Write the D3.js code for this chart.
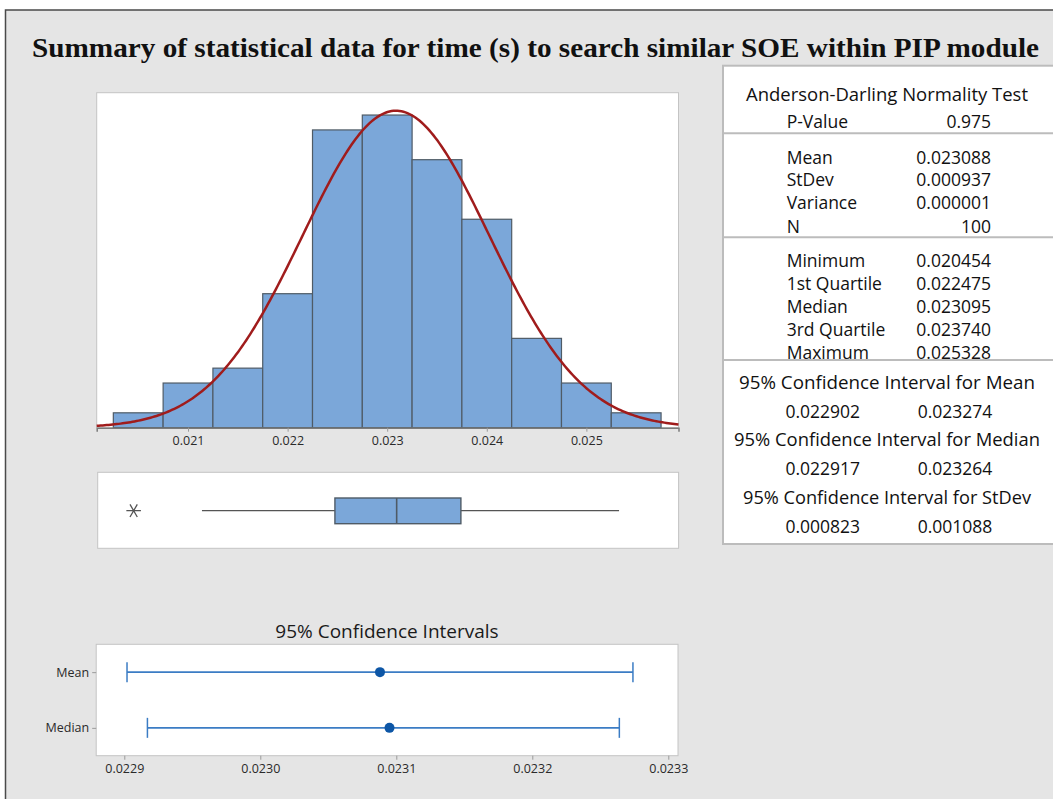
<!DOCTYPE html>
<html>
<head>
<meta charset="utf-8">
<script src="https://cdn.jsdelivr.net/npm/d3@7"></script>
<style>
  body { margin: 0; background: #fff; }
  svg { display: block; }
  text { font-family: "Open Sans", "Noto Sans", sans-serif; fill: #1a1a1a; }
</style>
</head>
<body>
<div id="chart"></div>
<script>
var width = 1053,
    height = 799;

// histogram: lower edge of each bin and how many values fall in it
var binLower = [0.02025, 0.02075, 0.02125, 0.02175, 0.02225, 0.02275, 0.02325, 0.02375, 0.02425, 0.02475, 0.02525];
var binWidth = 0.0005;
var binCounts = [1, 3, 4, 9, 20, 21, 18, 14, 6, 3, 1];
var histTicks = [0.021, 0.022, 0.023, 0.024, 0.025];

// summary statistics
var mean = 0.023088, stdev = 0.000937, n = 100;
var q1 = 0.022475, median = 0.023095, q3 = 0.023740;
var whiskerLow = 0.02114, whiskerHigh = 0.025328;
var outliers = [0.020454];

// confidence intervals
var ciNames = ['Mean', 'Median'];
var ciCenter = [0.023088, 0.023095];
var ciLow = [0.022902, 0.022917];
var ciHigh = [0.023274, 0.023264];
var ciTicks = [0.0229, 0.0230, 0.0231, 0.0232, 0.0233];

// right hand table
var testRows = [['P-Value', '0.975']];
var descRows = [['Mean', '0.023088'], ['StDev', '0.000937'], ['Variance', '0.000001'], ['N', '100']];
var quantRows = [['Minimum', '0.020454'], ['1st Quartile', '0.022475'], ['Median', '0.023095'], ['3rd Quartile', '0.023740'], ['Maximum', '0.025328']];
var ciTitles = ['95% Confidence Interval for Mean', '95% Confidence Interval for Median', '95% Confidence Interval for StDev'];
var ciValues = [['0.022902', '0.023274'], ['0.022917', '0.023264'], ['0.000823', '0.001088']];

var svg = d3.select('#chart').append('svg')
    .attr('width', width)
    .attr('height', height);

// grey frame
svg.append('rect')
    .attr('x', 5.5).attr('y', 10)
    .attr('width', width).attr('height', height)
    .style('fill', '#e5e5e5')
    .style('stroke', '#4a4a4a')
    .style('stroke-width', 1.5);

svg.append('text')
    .attr('x', 32).attr('y', 57)
    .attr('textLength', 1007)
    .attr('lengthAdjust', 'spacingAndGlyphs')
    .style('font-family', '"Liberation Serif", "Times New Roman", serif')
    .style('font-weight', 'bold')
    .style('font-size', '27px')
    .style('fill', '#111')
    .text('Summary of statistical data for time (s) to search similar SOE within PIP module');

var axisFont = '12.5px';

// ---------- histogram ----------
var hx = d3.scaleLinear().domain([0.020083, 0.025925]).range([96.7, 678.5]);
var hy = d3.scaleLinear().domain([0, 22.5]).range([427.7, 92.7]);

svg.append('rect')
    .attr('x', 96.7).attr('y', 92.7)
    .attr('width', 678.5 - 96.7).attr('height', 427.7 - 92.7)
    .style('fill', '#fff')
    .style('stroke', '#c4c4c4');

svg.append('g').selectAll('rect').data(binCounts)
  .enter().append('rect')
    .attr('x', function (d, i) { return hx(binLower[i]); })
    .attr('y', function (d) { return hy(d); })
    .attr('width', function (d, i) { return hx(binLower[i] + binWidth) - hx(binLower[i]); })
    .attr('height', function (d) { return hy(0) - hy(d); })
    .style('fill', '#7ba7d9')
    .style('stroke', '#4f5b66')
    .style('stroke-width', 1.2);

// fitted normal curve, scaled to counts
var curvePts = d3.range(hx.domain()[0], hx.domain()[1], 0.00002).concat([hx.domain()[1]]);
var line = d3.line()
    .x(function (v) { return hx(v); })
    .y(function (v) {
        var z = (v - mean) / stdev;
        return hy(n * binWidth * Math.exp(-0.5 * z * z) / (stdev * Math.sqrt(2 * Math.PI)));
    });
svg.append('path').datum(curvePts)
    .attr('d', line)
    .style('fill', 'none')
    .style('stroke', '#a01c1c')
    .style('stroke-width', 2.5);

var hAxis = svg.append('g')
    .attr('transform', 'translate(0,427.7)')
    .call(d3.axisBottom(hx).tickValues(histTicks).tickFormat(d3.format('.3f')).tickSize(4).tickPadding(4));
hAxis.select('.domain').style('stroke', '#7a7a7a').style('stroke-width', 1.5);
hAxis.selectAll('.tick line').style('stroke', '#9a9a9a');
hAxis.selectAll('text').style('font-size', axisFont).style('fill', '#2a2a2a').style('font-family', '"Open Sans", sans-serif');

// ---------- box plot ----------
svg.append('rect')
    .attr('x', 97.7).attr('y', 472.3)
    .attr('width', 678.6 - 97.7).attr('height', 548.3 - 472.3)
    .style('fill', '#fff')
    .style('stroke', '#c4c4c4');

var by = 510.7;
svg.append('line')
    .attr('x1', hx(whiskerLow)).attr('x2', hx(q1))
    .attr('y1', by).attr('y2', by)
    .style('stroke', '#555').style('stroke-width', 1.2);
svg.append('line')
    .attr('x1', hx(q3)).attr('x2', hx(whiskerHigh))
    .attr('y1', by).attr('y2', by)
    .style('stroke', '#555').style('stroke-width', 1.2);
svg.append('rect')
    .attr('x', hx(q1)).attr('y', 498)
    .attr('width', hx(q3) - hx(q1)).attr('height', 25.7)
    .style('fill', '#7ba7d9')
    .style('stroke', '#4f5b66')
    .style('stroke-width', 1.4);
svg.append('line')
    .attr('x1', hx(median)).attr('x2', hx(median))
    .attr('y1', 498).attr('y2', 523.7)
    .style('stroke', '#4f5b66').style('stroke-width', 1.6);
svg.selectAll('.outlier').data(outliers)
  .enter().append('path')
    .attr('class', 'outlier')
    .attr('transform', function (d) { return 'translate(' + hx(d) + ',' + by + ') rotate(90)'; })
    .attr('d', d3.symbol().type(d3.symbolAsterisk).size(150))
    .style('fill', 'none')
    .style('stroke', '#555')
    .style('stroke-width', 1.3);

// ---------- confidence intervals ----------
var cx = d3.scaleLinear().domain([0.02287934, 0.02330713]).range([96.2, 678]);
var cy = d3.scalePoint().domain(ciNames).range([644.3, 755.7]).padding(0.5);

svg.append('text')
    .attr('x', 387).attr('y', 631)
    .attr('text-anchor', 'middle')
    .attr('dominant-baseline', 'central')
    .style('font-size', '19px')
    .text('95% Confidence Intervals');

svg.append('rect')
    .attr('x', 96.2).attr('y', 644.3)
    .attr('width', 678 - 96.2).attr('height', 755.7 - 644.3)
    .style('fill', '#fff')
    .style('stroke', '#c4c4c4');

var cAxis = svg.append('g')
    .attr('transform', 'translate(0,755.7)')
    .call(d3.axisBottom(cx).tickValues(ciTicks).tickFormat(d3.format('.4f')).tickSize(4).tickPadding(4));
cAxis.select('.domain').remove();
cAxis.selectAll('.tick line').style('stroke', '#9a9a9a');
cAxis.selectAll('text').style('font-size', axisFont).style('fill', '#2a2a2a').style('font-family', '"Open Sans", sans-serif');

var cyAxis = svg.append('g')
    .attr('transform', 'translate(96.2,0)')
    .call(d3.axisLeft(cy).tickSize(4).tickPadding(3));
cyAxis.select('.domain').remove();
cyAxis.selectAll('.tick line').style('stroke', '#9a9a9a');
cyAxis.selectAll('text').style('font-size', axisFont).style('fill', '#2a2a2a').style('font-family', '"Open Sans", sans-serif');

var ci = svg.append('g').selectAll('g').data(ciNames)
  .enter().append('g');
ci.append('line')
    .attr('x1', function (d, i) { return cx(ciLow[i]); })
    .attr('x2', function (d, i) { return cx(ciHigh[i]); })
    .attr('y1', function (d) { return cy(d); })
    .attr('y2', function (d) { return cy(d); })
    .style('stroke', '#3b7cc4').style('stroke-width', 1.8);
ci.append('line')
    .attr('x1', function (d, i) { return cx(ciLow[i]); })
    .attr('x2', function (d, i) { return cx(ciLow[i]); })
    .attr('y1', function (d) { return cy(d) - 10; })
    .attr('y2', function (d) { return cy(d) + 10; })
    .style('stroke', '#3b7cc4').style('stroke-width', 1.5);
ci.append('line')
    .attr('x1', function (d, i) { return cx(ciHigh[i]); })
    .attr('x2', function (d, i) { return cx(ciHigh[i]); })
    .attr('y1', function (d) { return cy(d) - 10; })
    .attr('y2', function (d) { return cy(d) + 10; })
    .style('stroke', '#3b7cc4').style('stroke-width', 1.5);
ci.append('circle')
    .attr('cx', function (d, i) { return cx(ciCenter[i]); })
    .attr('cy', function (d) { return cy(d); })
    .attr('r', 5)
    .style('fill', '#0d56a6');

// ---------- summary table ----------
var tb = svg.append('g');
tb.append('rect')
    .attr('x', 723).attr('y', 65.7)
    .attr('width', 340).attr('height', 544 - 65.7)
    .style('fill', '#fff')
    .style('stroke', '#bcbcbc')
    .style('stroke-width', 2);

[133.3, 237.3, 360].forEach(function (y) {
    tb.append('line')
        .attr('x1', 723).attr('x2', 1053)
        .attr('y1', y).attr('y2', y)
        .style('stroke', '#bcbcbc').style('stroke-width', 2);
});

var tableFont = '17.5px';
function centered(x, y, s, len) {
    var t = tb.append('text')
        .attr('x', x).attr('y', y)
        .attr('text-anchor', 'middle')
        .attr('dominant-baseline', 'central')
        .style('font-size', tableFont)
        .style('fill', '#111')
        .text(s);
    if (len) t.attr('textLength', len).attr('lengthAdjust', 'spacingAndGlyphs');
}
function rows(data, ys) {
    data.forEach(function (r, i) {
        tb.append('text')
            .attr('x', 786.7).attr('y', ys[i])
            .attr('dominant-baseline', 'central')
            .style('font-size', tableFont)
            .style('fill', '#111')
            .text(r[0]);
        tb.append('text')
            .attr('x', 991).attr('y', ys[i])
            .attr('text-anchor', 'end')
            .attr('dominant-baseline', 'central')
            .style('font-size', tableFont)
            .style('fill', '#111')
            .text(r[1]);
    });
}

centered(887, 94.3, 'Anderson-Darling Normality Test', 282);
rows(testRows, [121]);
rows(descRows, [156.7, 179, 201.7, 225.5]);
rows(quantRows, [260, 282.5, 305.5, 328.5, 351.7]);

var ciTitleY = [381.7, 439, 496.7];
var ciValY = [410.7, 468.3, 525.7];
var ciTitleLen = [296, 306, 288];
ciTitles.forEach(function (t, i) {
    centered(887, ciTitleY[i], t, ciTitleLen[i]);
    centered(822.7, ciValY[i], ciValues[i][0]);
    centered(955, ciValY[i], ciValues[i][1]);
});
</script>
</body>
</html>
